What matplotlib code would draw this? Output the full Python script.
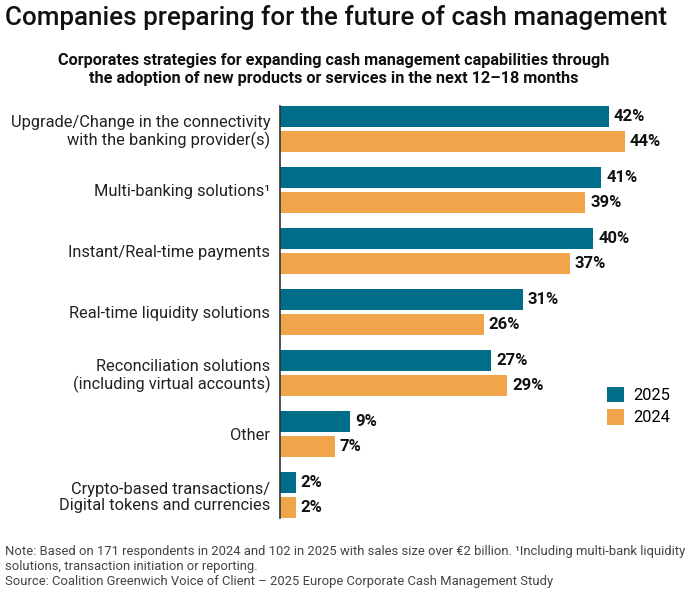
import matplotlib.pyplot as plt
import numpy as np

plt.rcParams['font.family'] = ['Roboto', 'DejaVu Sans']

categories = [
    "Upgrade/Change in the connectivity\nwith the banking provider(s)",
    "Multi-banking solutions¹",
    "Instant/Real-time payments",
    "Real-time liquidity solutions",
    "Reconciliation solutions\n(including virtual accounts)",
    "Other",
    "Crypto-based transactions/\nDigital tokens and currencies",
]
vals_2025 = [42, 41, 40, 31, 27, 9, 2]
vals_2024 = [44, 39, 37, 26, 29, 7, 2]

teal = "#006e89"
orange = "#f0a54a"

W, H = 688, 601
fig = plt.figure(figsize=(W / 100, H / 100), dpi=100)

# axes placed in pixel terms
ax_l, ax_r, ax_t, ax_b = 280, 688, 106, 518
ax = fig.add_axes([ax_l / W, 1 - ax_b / H, (ax_r - ax_l) / W, (ax_b - ax_t) / H])

y = np.arange(len(categories))
bh = 21 / 61
off = 12.5 / 61
ax.barh(y - off, vals_2025, height=bh, color=teal, label="2025")
ax.barh(y + off, vals_2024, height=bh, color=orange, label="2024")

for yi, v in zip(y - off, vals_2025):
    ax.text(v + 0.65, yi, f"{v}%", va="center", ha="left", fontsize=12, fontweight="bold", color="#111")
for yi, v in zip(y + off, vals_2024):
    ax.text(v + 0.65, yi, f"{v}%", va="center", ha="left", fontsize=12, fontweight="bold", color="#111")

ax.set_xlim(0, (ax_r - ax_l) / 7.83)
ax.set_ylim(6 + 23 / 61, -23 / 61)
ax.set_yticks(y)
ax.set_yticklabels(categories, fontsize=11.8, color="#222", linespacing=1.15)
ax.tick_params(axis="y", length=0, pad=7)
ax.set_xticks([])
for s in ["top", "right", "bottom"]:
    ax.spines[s].set_visible(False)
ax.spines["left"].set_color("#333")
ax.spines["left"].set_linewidth(1.2)

leg = ax.legend(loc="upper left", bbox_to_anchor=((600 - ax_l) / (ax_r - ax_l), 1 - (380 - ax_t) / (ax_b - ax_t)),
                frameon=False, fontsize=11.8, handlelength=1.05, handleheight=1.05, handletextpad=0.55,
                labelspacing=0.4, borderaxespad=0)

fig.text(5 / W, 1 - 18 / H, "Companies preparing for the future of cash management", fontsize=18.7,
         fontweight="medium", ha="left", va="center", color="#111")
fig.text(334 / W, 1 - 60 / H, "Corporates strategies for expanding cash management capabilities through",
         fontsize=11.7, fontweight="bold", ha="center", va="center", color="#111")
fig.text(334 / W, 1 - 78 / H, "the adoption of new products or services in the next 12\u201318 months",
         fontsize=11.7, fontweight="bold", ha="center", va="center", color="#111")

notes = [
    "Note: Based on 171 respondents in 2024 and 102 in 2025 with sales size over \u20ac2 billion. \u00b9Including multi-bank liquidity",
    "solutions, transaction initiation or reporting.",
    "Source: Coalition Greenwich Voice of Client \u2013 2025 Europe Corporate Cash Management Study",
]
for i, line in enumerate(notes):
    fig.text(5 / W, 1 - (552 + 14.5 * i) / H, line, fontsize=9.35, ha="left", va="center", color="#444")

fig.savefig("out.png", dpi=100)
